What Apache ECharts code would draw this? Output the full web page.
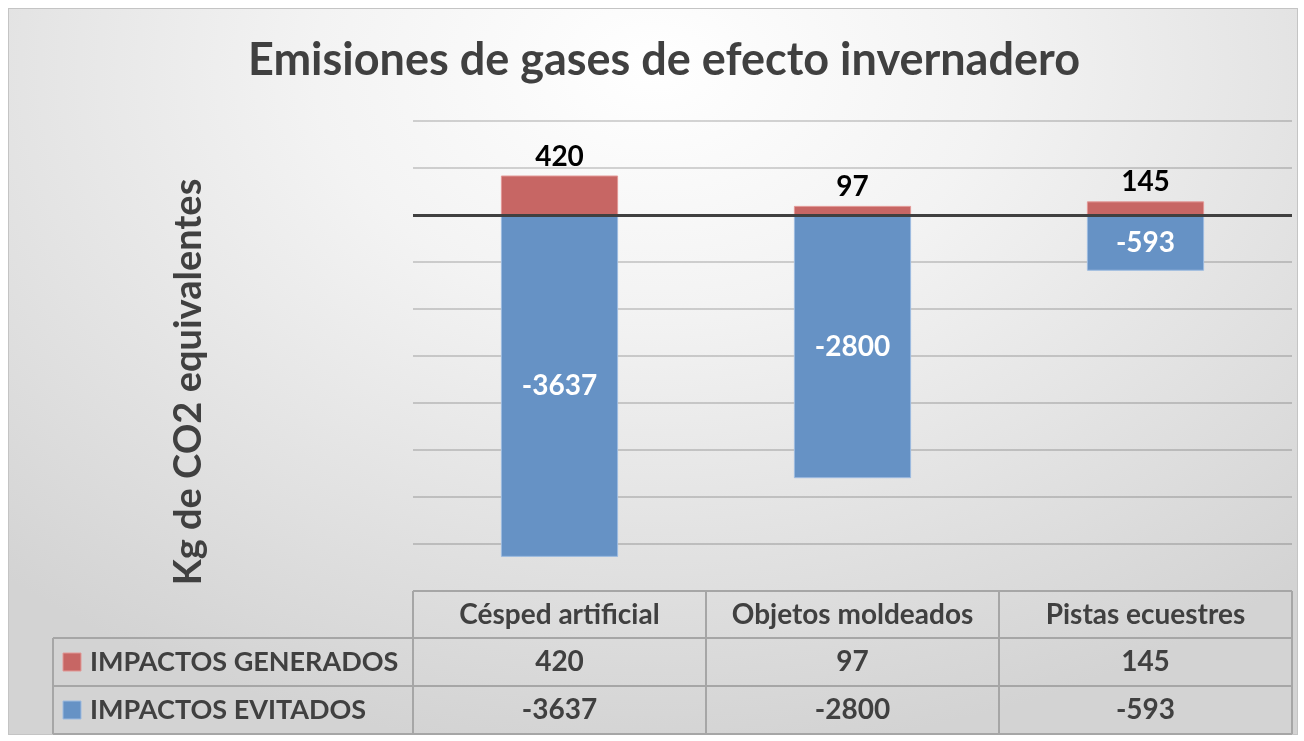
<!DOCTYPE html>
<html>
<head>
<meta charset="utf-8">
<script src="https://cdn.jsdelivr.net/npm/echarts@6/dist/echarts.min.js"></script>
<style>
  html, body { margin: 0; padding: 0; background: #fff; }
  #frame {
    position: absolute; left: 8px; top: 8px; width: 1290px; height: 727px;
    box-sizing: border-box; border: 1px solid #c4c4c4;
    background: radial-gradient(ellipse 75% 95% at 50% 8%, #ffffff 0%, #f3f3f3 35%, #d3d3d3 100%);
  }
  #chart { position: absolute; left: 0; top: 0; width: 1304px; height: 741px; }
</style>
</head>
<body>
<div id="frame"></div>
<div id="chart"></div>
<script>
// data
const categories = ['Césped artificial', 'Objetos moldeados', 'Pistas ecuestres'];
const seriesNames = ['IMPACTOS GENERADOS', 'IMPACTOS EVITADOS'];
const generados = [420, 97, 145];
const evitados = [-3637, -2800, -593];
const yTicks = { min: -4000, max: 1000, interval: 500 };

const FONT = 'Lato';
const TEXT = '#404040';
const RED = '#c76664';
const BLUE = '#6692c5';
const FS = 28;

const chart = echarts.init(document.getElementById('chart'));

const gridBox = { left: 413, right: 12, top: 121, bottom: 150 };

chart.setOption({
  animation: false,
  backgroundColor: 'transparent',
  grid: gridBox,
  xAxis: {
    type: 'category',
    data: categories,
    axisLine: { show: false },
    axisTick: { show: false },
    axisLabel: {
      interval: 0,
      hideOverlap: false,
      margin: 24,
      verticalAlign: 'middle',
      color: TEXT,
      fontFamily: FONT,
      fontWeight: 'bold',
      fontSize: FS
    }
  },
  yAxis: {
    type: 'value',
    min: yTicks.min,
    max: yTicks.max,
    interval: yTicks.interval,
    axisLabel: { show: false },
    axisLine: { show: false },
    axisTick: { show: false },
    splitLine: { lineStyle: { color: 'rgba(0,0,0,0.16)', width: 2 } }
  },
  series: [
    {
      name: seriesNames[0],
      type: 'bar',
      stack: 'total',
      data: generados,
      barWidth: '40%',
      itemStyle: { color: RED, borderColor: '#e29896', borderWidth: 1 },
      label: {
        show: true, position: 'top', distance: 5,
        color: '#000', fontFamily: FONT, fontWeight: 'bold', fontSize: FS
      }
    },
    {
      name: seriesNames[1],
      type: 'bar',
      stack: 'total',
      data: evitados,
      barWidth: '40%',
      itemStyle: { color: BLUE, borderColor: '#9dbbe0', borderWidth: 1 },
      label: {
        show: true, position: 'inside',
        color: '#fff', fontFamily: FONT, fontWeight: 'bold', fontSize: FS
      },
      markLine: {
        silent: true,
        symbol: 'none',
        label: { show: false },
        lineStyle: { color: '#404040', width: 3, type: 'solid' },
        data: [{ yAxis: 0 }],
        z: 10
      }
    }
  ]
});

// data table drawn under the plot
const plotLeft = gridBox.left;
const plotRight = 1304 - gridBox.right;
const band = (plotRight - plotLeft) / categories.length;
const rows = [591, 638, 686, 734];
const legLeft = 53;
const lineStyle = { stroke: '#a6a6a6', lineWidth: 2 };
const els = [];

els.push({ type: 'line', shape: { x1: plotLeft, y1: rows[0], x2: plotRight, y2: rows[0] }, style: lineStyle });
for (let r = 1; r < rows.length; r++) {
  els.push({ type: 'line', shape: { x1: legLeft, y1: rows[r], x2: plotRight, y2: rows[r] }, style: lineStyle });
}
for (let c = 0; c <= categories.length; c++) {
  const x = plotLeft + c * band;
  els.push({ type: 'line', shape: { x1: x, y1: rows[0], x2: x, y2: rows[3] }, style: lineStyle });
}
els.push({ type: 'line', shape: { x1: legLeft, y1: rows[1], x2: legLeft, y2: rows[3] }, style: lineStyle });

const rowData = [generados, evitados];
const colors = [RED, BLUE];
rowData.forEach((vals, r) => {
  const cy = (rows[r + 1] + rows[r + 2]) / 2;
  els.push({ type: 'rect', shape: { x: 63, y: cy - 9, width: 18, height: 18 }, style: { fill: colors[r], stroke: r ? '#9dbbe0' : '#e29896', lineWidth: 1 } });
  els.push({ type: 'text', x: 90, y: cy, style: { text: seriesNames[r], fill: TEXT, font: 'bold 27px ' + FONT, align: 'left', verticalAlign: 'middle' } });
  vals.forEach((v, i) => {
    const cx = chart.convertToPixel({ xAxisIndex: 0 }, i);
    els.push({ type: 'text', x: cx, y: cy, style: { text: String(v), fill: TEXT, font: 'bold ' + FS + 'px ' + FONT, align: 'center', verticalAlign: 'middle' } });
  });
});

// title and axis name
els.push({ type: 'text', x: 664, y: 60, style: { text: 'Emisiones de gases de efecto invernadero', fill: TEXT, font: 'bold 45px ' + FONT, align: 'center', verticalAlign: 'middle' } });
els.push({ type: 'text', x: 189, y: 382, rotation: Math.PI / 2, style: { text: 'Kg de CO2 equivalentes', fill: TEXT, font: 'bold 38px ' + FONT, align: 'center', verticalAlign: 'middle' } });

chart.setOption({ graphic: { elements: els } });
</script>
</body>
</html>
